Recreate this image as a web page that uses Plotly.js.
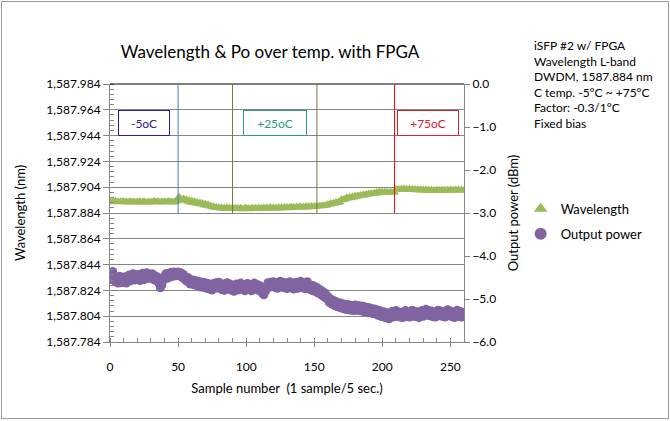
<!DOCTYPE html>
<html>
<head>
<meta charset="utf-8">
<script src="https://cdn.plot.ly/plotly-3.0.1.min.js"></script>
<style>
  html, body { margin: 0; padding: 0; background: #fff; }
  #wrap { position: relative; width: 670px; height: 421px; }
  #chart { width: 670px; height: 421px; }
  #frame { position: absolute; left: 1px; top: 1px; width: 666px; height: 416px; border: 1px solid #9a9a9a; pointer-events: none; }
</style>
</head>
<body>
<div id="wrap"><div id="chart"></div><div id="frame"></div></div>
<script>
// ---- data ----
const wavelength = [
1587.8931,1587.8924,1587.8932,1587.8926,1587.8933,1587.8925,1587.8930,1587.8923,1587.8932,1587.8926,
1587.8933,1587.8924,1587.8930,1587.8922,1587.8929,1587.8932,1587.8923,1587.8930,1587.8925,1587.8921,
1587.8929,1587.8923,1587.8931,1587.8922,1587.8928,1587.8932,1587.8923,1587.8921,1587.8929,1587.8922,
1587.8930,1587.8923,1587.8931,1587.8933,1587.8924,1587.8932,1587.8925,1587.8922,1587.8931,1587.8924,
1587.8932,1587.8923,1587.8930,1587.8933,1587.8924,1587.8931,1587.8922,1587.8930,1587.8923,1587.8931,
1587.8958,1587.8963,1587.8949,1587.8940,1587.8953,1587.8934,1587.8946,1587.8928,1587.8941,1587.8922,
1587.8936,1587.8917,1587.8931,1587.8913,1587.8926,1587.8909,1587.8921,1587.8905,1587.8917,1587.8901,
1587.8912,1587.8897,1587.8906,1587.8891,1587.8899,1587.8884,1587.8892,1587.8880,1587.8886,1587.8879,
1587.8885,1587.8874,1587.8883,1587.8872,1587.8881,1587.8873,1587.8884,1587.8871,1587.8880,1587.8873,
1587.8882,1587.8872,1587.8880,1587.8870,1587.8879,1587.8871,1587.8881,1587.8872,1587.8869,1587.8878,
1587.8880,1587.8871,1587.8879,1587.8870,1587.8878,1587.8881,1587.8872,1587.8879,1587.8871,1587.8880,
1587.8872,1587.8881,1587.8873,1587.8883,1587.8874,1587.8882,1587.8873,1587.8881,1587.8884,1587.8875,
1587.8883,1587.8874,1587.8882,1587.8875,1587.8885,1587.8876,1587.8884,1587.8877,1587.8886,1587.8878,
1587.8887,1587.8877,1587.8885,1587.8888,1587.8879,1587.8887,1587.8880,1587.8889,1587.8881,1587.8888,
1587.8891,1587.8882,1587.8890,1587.8883,1587.8893,1587.8884,1587.8892,1587.8885,1587.8895,1587.8886,
1587.8893,1587.8889,1587.8895,1587.8890,1587.8897,1587.8892,1587.8899,1587.8894,1587.8901,1587.8896,
1587.8910,1587.8903,1587.8915,1587.8907,1587.8920,1587.8912,1587.8925,1587.8917,1587.8930,1587.8921,
1587.8946,1587.8939,1587.8951,1587.8944,1587.8961,1587.8952,1587.8964,1587.8956,1587.8967,1587.8960,
1587.8974,1587.8966,1587.8977,1587.8970,1587.8980,1587.8973,1587.8984,1587.8976,1587.8988,1587.8981,
1587.8991,1587.8985,1587.8994,1587.8988,1587.8997,1587.8991,1587.9003,1587.8994,1587.9006,1587.8997,
1587.9004,1587.8996,1587.9005,1587.8998,1587.9003,1587.8997,1587.9004,1587.8999,1587.9002,1587.8998,
1587.9027,1587.9021,1587.9026,1587.9020,1587.9028,1587.9022,1587.9029,1587.9021,1587.9027,1587.9020,
1587.9028,1587.9019,1587.9027,1587.9018,1587.9026,1587.9017,1587.9025,1587.9016,1587.9024,1587.9015,
1587.9023,1587.9014,1587.9022,1587.9013,1587.9021,1587.9012,1587.9020,1587.9011,1587.9019,1587.9012,
1587.9020,1587.9011,1587.9019,1587.9012,1587.9021,1587.9013,1587.9020,1587.9012,1587.9021,1587.9014,
1587.9022,1587.9013,1587.9021,1587.9014,1587.9023,1587.9015,1587.9022,1587.9014,1587.9021,1587.9013
];
const outputPower = [
-4.55,-4.42,-4.36,-4.48,-4.60,-4.50,-4.63,-4.47,-4.62,-4.52,
-4.61,-4.48,-4.63,-4.54,-4.44,-4.58,-4.47,-4.41,-4.56,-4.45,
-4.54,-4.43,-4.57,-4.47,-4.40,-4.55,-4.45,-4.39,-4.52,-4.43,
-4.51,-4.41,-4.55,-4.46,-4.58,-4.49,-4.64,-4.74,-4.68,-4.57,
-4.50,-4.41,-4.52,-4.40,-4.49,-4.38,-4.47,-4.37,-4.46,-4.40,
-4.37,-4.46,-4.39,-4.50,-4.43,-4.54,-4.58,-4.50,-4.62,-4.65,
-4.55,-4.66,-4.57,-4.68,-4.58,-4.70,-4.60,-4.72,-4.61,-4.73,
-4.62,-4.75,-4.64,-4.77,-4.66,-4.79,-4.64,-4.75,-4.62,-4.74,
-4.61,-4.73,-4.78,-4.65,-4.80,-4.68,-4.62,-4.76,-4.65,-4.79,
-4.68,-4.82,-4.72,-4.65,-4.79,-4.68,-4.63,-4.77,-4.67,-4.81,
-4.70,-4.64,-4.78,-4.67,-4.81,-4.70,-4.63,-4.77,-4.66,-4.80,
-4.69,-4.81,-4.87,-4.90,-4.83,-4.71,-4.62,-4.73,-4.61,-4.71,
-4.60,-4.73,-4.62,-4.75,-4.64,-4.59,-4.72,-4.61,-4.74,-4.63,
-4.76,-4.64,-4.60,-4.74,-4.63,-4.77,-4.65,-4.61,-4.75,-4.64,
-4.59,-4.73,-4.63,-4.76,-4.65,-4.60,-4.74,-4.78,-4.68,-4.81,
-4.70,-4.83,-4.73,-4.86,-4.78,-4.90,-4.82,-4.95,-4.86,-4.99,
-4.94,-5.08,-5.00,-5.12,-5.03,-5.15,-5.06,-5.18,-5.09,-5.20,
-5.10,-5.22,-5.12,-5.24,-5.13,-5.25,-5.14,-5.26,-5.15,-5.27,
-5.14,-5.26,-5.15,-5.27,-5.16,-5.28,-5.17,-5.30,-5.19,-5.31,
-5.20,-5.32,-5.22,-5.34,-5.23,-5.35,-5.25,-5.38,-5.27,-5.40,
-5.29,-5.42,-5.31,-5.44,-5.33,-5.46,-5.34,-5.29,-5.42,-5.32,
-5.27,-5.40,-5.30,-5.42,-5.31,-5.43,-5.32,-5.27,-5.41,-5.30,
-5.42,-5.31,-5.26,-5.40,-5.29,-5.41,-5.30,-5.43,-5.32,-5.27,
-5.40,-5.29,-5.24,-5.38,-5.27,-5.39,-5.28,-5.41,-5.30,-5.42,
-5.31,-5.26,-5.39,-5.28,-5.40,-5.29,-5.42,-5.31,-5.25,-5.39,
-5.28,-5.41,-5.30,-5.43,-5.32,-5.26,-5.40,-5.29,-5.42,-5.31
];
// sample numbers (1 sample / 5 s)
const samples = wavelength.map((_, i) => i);
// samples at which the temperature setting changed
const stepSamples = [50, 90, 152, 209];
const stepColors = ['#4a7ebb', '#77773c', '#77773c', '#ff0000'];
// temperature labels
const tempLabels = ['-5oC', '+25oC', '+75oC'];
const infoLines = ['iSFP #2 w/ FPGA', 'Wavelength L-band', 'DWDM, 1587.884 nm',
                   'C temp. -5°C ~ +75°C', 'Factor: -0.3/1°C', 'Fixed bias'];

const FONT = 'Lato, "Open Sans", sans-serif';
const GRID = '#868686';

const traces = [
  { x: samples, y: wavelength, name: 'Wavelength', type: 'scatter', mode: 'markers',
    yaxis: 'y', legendgroup: 'a',
    marker: { symbol: 'triangle-up', size: 8, color: '#9bbb59' } },
  { x: samples, y: outputPower, name: 'Output power', type: 'scatter', mode: 'markers',
    yaxis: 'y2', legendgroup: 'b',
    marker: { symbol: 'circle', size: 9, color: '#8064a2' } }
];

const shapes = [
  { type: 'line', xref: 'paper', yref: 'paper', x0: 0, x1: 1, y0: 1, y1: 1,
    line: { color: '#000', width: 1 } }
];
stepSamples.forEach((s, i) => {
  shapes.push({ type: 'line', xref: 'x', yref: 'y', x0: s, x1: s, y0: 1587.884, y1: 1587.984,
    line: { color: stepColors[i], width: 1 } });
});

const boxStyle = [
  { x: 0.096, w: 50, col: '#2323a0' },
  { x: 0.466, w: 62, col: '#2a9d7a' },
  { x: 0.898, w: 60, col: '#e0202a' }
];
const annotations = tempLabels.map((t, i) => ({
  text: t, xref: 'paper', yref: 'paper', x: boxStyle[i].x, y: 0.847,
  xanchor: 'center', yanchor: 'middle', showarrow: false,
  width: boxStyle[i].w, height: 24, borderpad: 0, borderwidth: 1,
  bordercolor: boxStyle[i].col, bgcolor: '#ffffff',
  font: { family: FONT, size: 12, color: boxStyle[i].col }
}));
annotations.push({
  text: infoLines.join('<br>'), xref: 'paper', yref: 'paper', x: 1.192, y: 1.186,
  xanchor: 'left', yanchor: 'top', align: 'left', showarrow: false,
  font: { family: FONT, size: 12, color: '#000' }
});

const layout = {
  width: 670, height: 421,
  margin: { l: 110, r: 206, t: 84, b: 79 },
  paper_bgcolor: '#fff', plot_bgcolor: '#fff',
  font: { family: FONT, size: 12, color: '#000' },
  title: { text: 'Wavelength & Po over temp. with FPGA', font: { family: FONT, size: 17, color: '#000' },
           x: 0.403, y: 0.876, xanchor: 'center', yanchor: 'middle' },
  showlegend: true,
  legend: { x: 1.16, y: 0.574, xanchor: 'left', yanchor: 'top', traceorder: 'grouped',
            tracegroupgap: 5, itemsizing: 'constant',
            font: { family: FONT, size: 13 }, bgcolor: 'rgba(0,0,0,0)' },
  xaxis: {
    range: [0, 260], tick0: 0, dtick: 50, ticks: 'outside', ticklen: 4, tickcolor: GRID,
    showline: true, linecolor: GRID, showgrid: false, zeroline: false,
    ticklabelstandoff: 10,
    minor: { dtick: 10, ticks: 'inside', ticklen: 4, tickcolor: GRID, showgrid: false },
    tickfont: { size: 12 },
    title: { text: 'Sample number&nbsp;&nbsp;(1 sample/5 sec.)', font: { size: 13 }, standoff: 10 }
  },
  yaxis: {
    range: [1587.784, 1587.984], tick0: 1587.784, dtick: 0.02, tickformat: ',.3f',
    ticks: 'outside', ticklen: 6, tickcolor: GRID,
    showline: true, linecolor: GRID, showgrid: true, gridcolor: GRID, zeroline: false,
    minor: { dtick: 0.004, ticks: 'inside', ticklen: 4, tickcolor: GRID, showgrid: false },
    tickfont: { size: 12 },
    title: { text: 'Wavelength (nm)', font: { size: 13 }, standoff: 17 }
  },
  yaxis2: {
    overlaying: 'y', side: 'right', range: [-6, 0], dtick: 1, tickformat: '.1f',
    ticks: 'outside', ticklen: 5, tickcolor: GRID,
    showline: true, linecolor: GRID, showgrid: false, zeroline: false,
    tickfont: { size: 12 },
    title: { text: 'Output power (dBm)', font: { size: 13 }, standoff: 13 }
  },
  shapes: shapes,
  annotations: annotations
};

Plotly.newPlot('chart', traces, layout, { staticPlot: true, displayModeBar: false });
</script>
</body>
</html>
